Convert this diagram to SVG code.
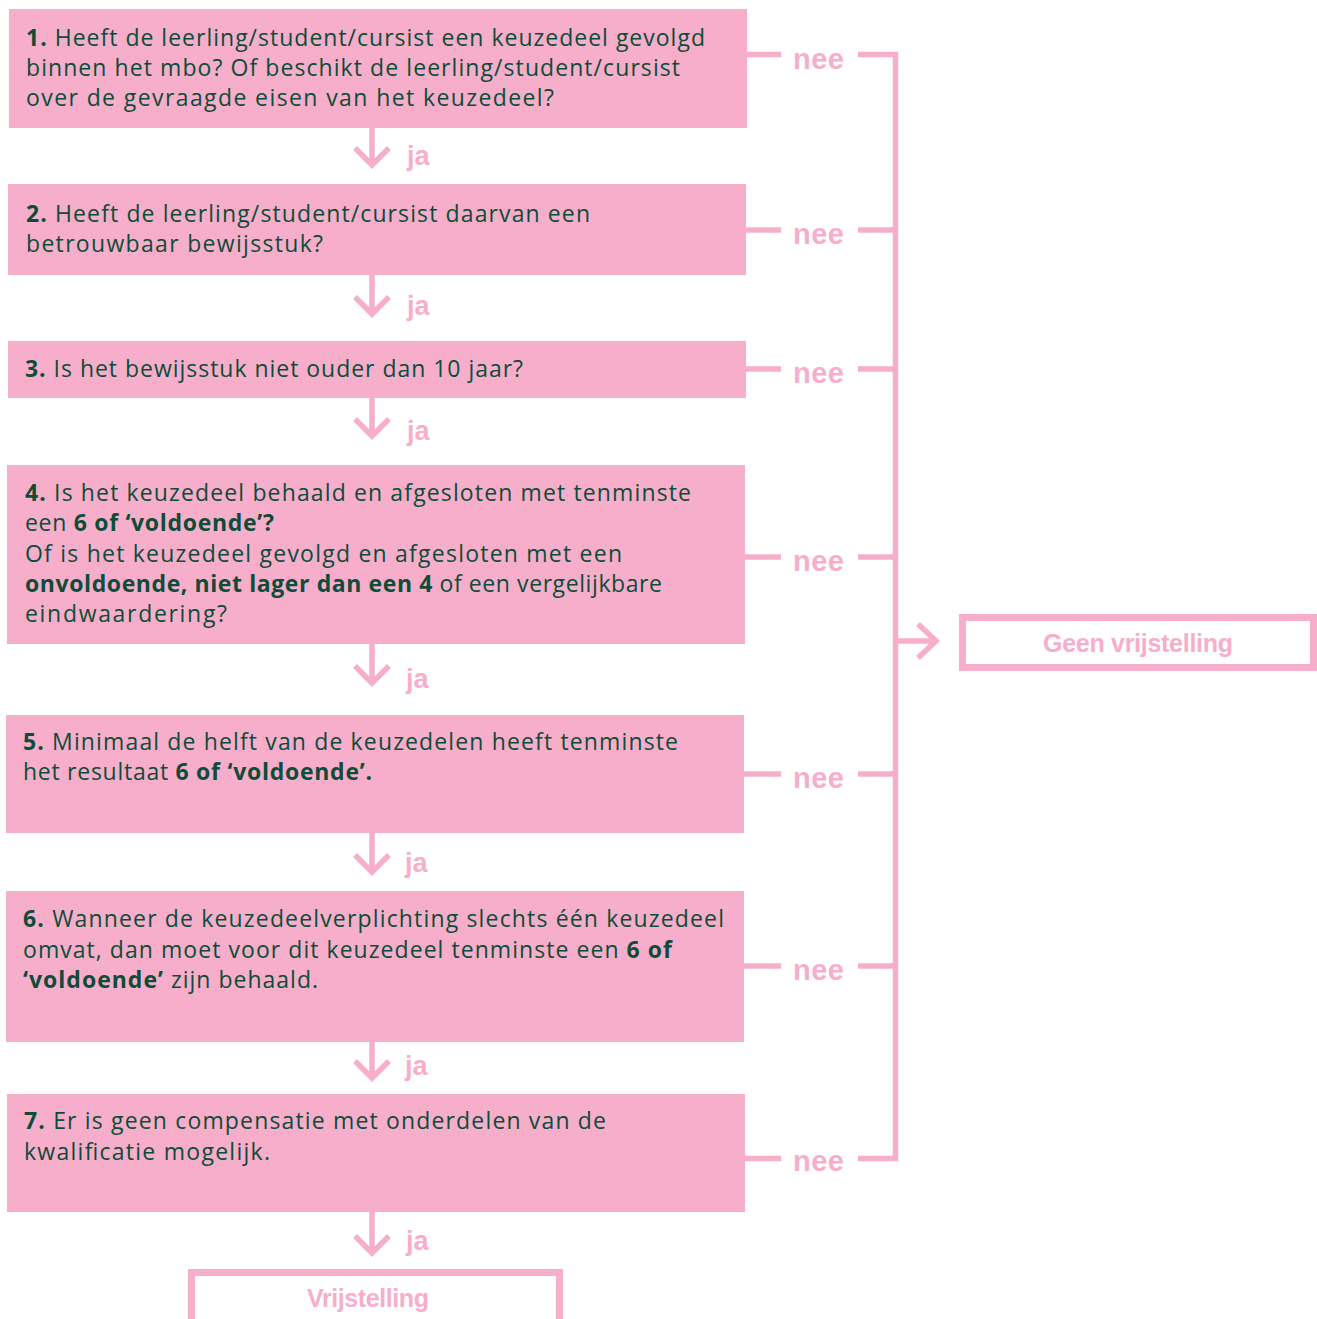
<svg xmlns="http://www.w3.org/2000/svg" width="1317" height="1319" viewBox="0 0 1317 1319">
<defs>
<style>
.box{fill:#F7AECB}
.q{font-family:"Open Sans","Liberation Sans",sans-serif;font-size:23px;fill:#0D4C37}
.b{font-weight:bold}
.lbl{font-family:"Liberation Sans",Arial,sans-serif;font-weight:bold;fill:#F7AECB}
.ln{fill:none;stroke:#F7AECB;stroke-width:5.5;stroke-linejoin:miter;stroke-linecap:butt}
.frame{fill:#fff;stroke:#F7AECB;stroke-width:7}
</style>
</defs>
<rect width="1317" height="1319" fill="#fff"/>

<g id="connectors">
  <path class="ln" d="M747,54.5H781 M745,230H781 M745,369H781 M744,557H781 M743,774H781 M743,966H781 M744,1158.5H781"/>
  <path class="ln" d="M858,54.5H895.5V1158.5H858 M858,230H895.5 M858,369H895.5 M858,557H895.5 M858,774H895.5 M858,966H895.5"/>
  <path class="ln" d="M895.5,641H935 M918,624L936,641L918,658"/>
  <path class="ln" d="M372,128V163 M355,148L372,165L389,148"/>
  <path class="ln" d="M372,275V312 M355,297L372,314L389,297"/>
  <path class="ln" d="M372,398V434 M355,419L372,436L389,419"/>
  <path class="ln" d="M372,644V681 M355,666L372,683L389,666"/>
  <path class="ln" d="M372,833V870 M355,855L372,872L389,855"/>
  <path class="ln" d="M372,1042V1076 M355,1061L372,1078L389,1061"/>
  <path class="ln" d="M372,1212V1251 M355,1236L372,1253L389,1236"/>
  <g class="lbl" font-size="29">
    <text x="793" y="69" textLength="51">nee</text>
    <text x="793" y="244" textLength="51">nee</text>
    <text x="793" y="383" textLength="51">nee</text>
    <text x="793" y="571" textLength="51">nee</text>
    <text x="793" y="788" textLength="51">nee</text>
    <text x="793" y="980" textLength="51">nee</text>
    <text x="793" y="1171" textLength="51">nee</text>
  </g>
  <g class="lbl" font-size="27">
    <text x="407" y="165">ja</text>
    <text x="407" y="315">ja</text>
    <text x="407" y="440">ja</text>
    <text x="406" y="688">ja</text>
    <text x="405" y="872">ja</text>
    <text x="405" y="1075">ja</text>
    <text x="406" y="1250">ja</text>
  </g>
</g>

<g id="q1">
  <rect class="box" x="9" y="9" width="738" height="119"/>
  <text class="q" x="26" y="46" textLength="679"><tspan class="b">1.</tspan> Heeft de leerling/student/cursist een keuzedeel gevolgd</text>
  <text class="q" x="26" y="76" textLength="654">binnen het mbo? Of beschikt de leerling/student/cursist</text>
  <text class="q" x="26" y="106" textLength="528">over de gevraagde eisen van het keuzedeel?</text>
</g>
<g id="q2">
  <rect class="box" x="8" y="184" width="738" height="91"/>
  <text class="q" x="26" y="222" textLength="564"><tspan class="b">2.</tspan> Heeft de leerling/student/cursist daarvan een</text>
  <text class="q" x="26" y="252" textLength="297">betrouwbaar bewijsstuk?</text>
</g>
<g id="q3">
  <rect class="box" x="8" y="341" width="738" height="57"/>
  <text class="q" x="25" y="377" textLength="498"><tspan class="b">3.</tspan> Is het bewijsstuk niet ouder dan 10 jaar?</text>
</g>
<g id="q4">
  <rect class="box" x="7" y="465" width="738" height="179"/>
  <text class="q" x="25" y="501" textLength="666"><tspan class="b">4.</tspan> Is het keuzedeel behaald en afgesloten met tenminste</text>
  <text class="q" x="25" y="531" textLength="249">een <tspan class="b">6 of ‘voldoende’?</tspan></text>
  <text class="q" x="25" y="562" textLength="597">Of is het keuzedeel gevolgd en afgesloten met een</text>
  <text class="q" x="25" y="592" textLength="637"><tspan class="b">onvoldoende, niet lager dan een 4</tspan> of een vergelijkbare</text>
  <text class="q" x="25" y="622" textLength="202">eindwaardering?</text>
</g>
<g id="q5">
  <rect class="box" x="6" y="715" width="738" height="118"/>
  <text class="q" x="23" y="750" textLength="655"><tspan class="b">5.</tspan> Minimaal de helft van de keuzedelen heeft tenminste</text>
  <text class="q" x="23" y="780" textLength="349">het resultaat <tspan class="b">6 of ‘voldoende’.</tspan></text>
</g>
<g id="q6">
  <rect class="box" x="6" y="891" width="738" height="151"/>
  <text class="q" x="23" y="927" textLength="701"><tspan class="b">6.</tspan> Wanneer de keuzedeelverplichting slechts één keuzedeel</text>
  <text class="q" x="23" y="958" textLength="649">omvat, dan moet voor dit keuzedeel tenminste een <tspan class="b">6 of</tspan></text>
  <text class="q" x="23" y="988" textLength="295"><tspan class="b">‘voldoende’</tspan> zijn behaald.</text>
</g>
<g id="q7">
  <rect class="box" x="7" y="1094" width="738" height="118"/>
  <text class="q" x="24" y="1129" textLength="582"><tspan class="b">7.</tspan> Er is geen compensatie met onderdelen van de</text>
  <text class="q" x="24" y="1160" textLength="246">kwalificatie mogelijk.</text>
</g>

<g id="geen-vrijstelling">
  <rect class="frame" x="962.5" y="617.5" width="351" height="50"/>
  <text class="lbl" x="1138" y="652" font-size="25" text-anchor="middle" textLength="190">Geen vrijstelling</text>
</g>
<g id="vrijstelling">
  <path class="frame" d="M191.5,1330V1272.5H559.5V1330"/>
  <text class="lbl" x="368" y="1307" font-size="25" text-anchor="middle" textLength="122">Vrijstelling</text>
</g>
</svg>
